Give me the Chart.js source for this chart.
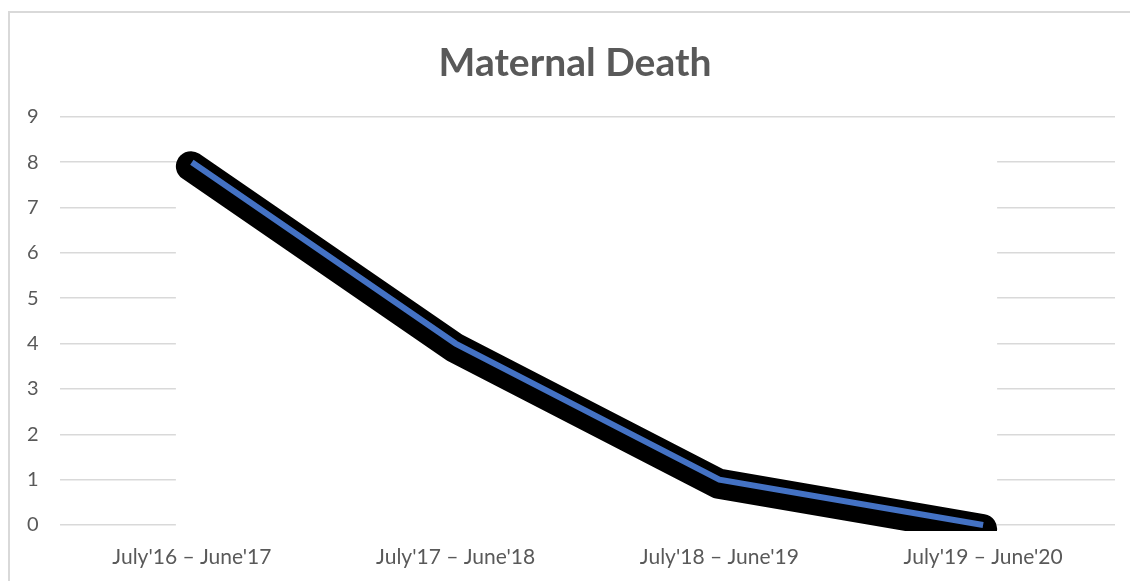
<!DOCTYPE html>
<html>
<head>
<meta charset="utf-8">
<script src="https://cdn.jsdelivr.net/npm/chart.js@4"></script>
<style>
  body { margin: 0; background: #fff; }
  #frame {
    position: absolute; left: 8px; top: 11px; width: 1200px; height: 700px;
    border-left: 2px solid #d9d9d9; border-top: 2px solid #d9d9d9;
  }
  #wrap { position: absolute; left: 0; top: 0; width: 1130px; height: 581px; }
</style>
</head>
<body>
<div id="frame"></div>
<div id="wrap"><canvas id="chart"></canvas></div>
<script>
const periods = ["July'16 \u2013 June'17", "July'17 \u2013 June'18", "July'18 \u2013 June'19", "July'19 \u2013 June'20"];
const deaths = [8, 4, 1, 0];
const yMax = 9;

const textGrey = "#595959";

// hides the gridlines behind the line, like the original picture
const gridMask = {
    id: "gridMask",
    beforeDatasetsDraw(chart) {
        const { ctx, scales: { x, y } } = chart;
        const left = x.getPixelForValue(0) - 16;
        const right = x.getPixelForValue(periods.length - 1) + 14;
        const top = y.getPixelForValue(8.5);
        ctx.save();
        ctx.fillStyle = "#fff";
        ctx.fillRect(left, top, right - left, y.bottom + 2 - top);
        ctx.restore();
    }
};

// shifts the black shadow line a little down
const shadowShift = {
    id: "shadowShift",
    beforeDatasetDraw(chart, args) {
        if (args.index === 1) {
            chart.ctx.save();
            chart.ctx.translate(-1, 4);
        }
    },
    afterDatasetDraw(chart, args) {
        if (args.index === 1) chart.ctx.restore();
    }
};

new Chart(document.getElementById("chart"), {
    type: "line",
    data: {
        labels: periods,
        datasets: [
            {
                label: "Maternal Death",
                data: deaths,
                borderColor: "#4472C4",
                borderWidth: 6,
                pointRadius: 0,
                borderCapStyle: "butt",
                borderJoinStyle: "miter",
                tension: 0,
                order: 0,
                clip: 20
            },
            {
                label: "shadow",
                data: deaths,
                borderColor: "#000",
                borderWidth: 30,
                pointRadius: 0,
                borderCapStyle: "round",
                borderJoinStyle: "round",
                tension: 0,
                order: 1,
                clip: { left: 30, top: 30, right: 30, bottom: 2 }
            }
        ]
    },
    plugins: [gridMask, shadowShift],
    options: {
        responsive: true,
        maintainAspectRatio: false,
        animation: false,
        layout: { padding: { left: 35, right: 15, top: 0, bottom: 0 } },
        plugins: {
            legend: { display: false },
            tooltip: { enabled: false },
            title: {
                display: true,
                text: "Maternal Death",
                color: textGrey,
                font: { family: "Lato", size: 39, weight: "bold" },
                padding: { top: 40, bottom: 30 }
            }
        },
        scales: {
            x: {
                offset: true,
                grid: { display: false, drawTicks: false },
                border: { display: false },
                ticks: {
                    color: textGrey,
                    font: { family: "Lato", size: 21 },
                    padding: 20,
                    maxRotation: 0
                },
                afterFit: s => { s.height = 56; }
            },
            y: {
                min: 0,
                max: yMax,
                grid: { color: "#d9d9d9", lineWidth: 1.5, drawTicks: false },
                border: { display: false },
                ticks: {
                    stepSize: 1,
                    color: textGrey,
                    font: { family: "Lato", size: 20 },
                    mirror: true,
                    padding: -33
                },
                afterFit: s => { s.width = 25; }
            }
        }
    }
});
</script>
</body>
</html>
